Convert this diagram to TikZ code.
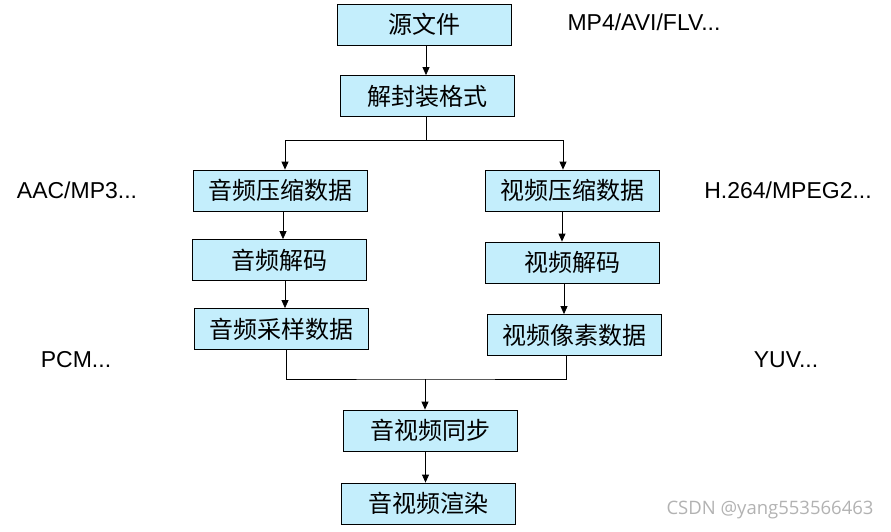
\documentclass[tikz,border=0pt]{standalone}
\usepackage{fontspec}
\setmainfont{Liberation Sans}
\newfontfamily\cjk{Noto Sans CJK SC}
\newfontfamily\markfont{Open Sans}
\usetikzlibrary{arrows.meta}
\definecolor{boxfill}{RGB}{196,238,252}
\begin{document}
\begin{tikzpicture}[x=1pt,y=-1pt]
		\tikzset{
			stage/.style={draw=black, fill=boxfill, line width=0.8pt, minimum width=174pt, minimum height=41pt, inner sep=0pt, font=\cjk\fontsize{24}{24}\selectfont},
			fmt/.style={font=\fontsize{23}{23}\selectfont, inner sep=0pt},
			flow/.style={line width=0.8pt, -{Triangle[length=8pt,width=7pt]}},
			wire/.style={line width=0.8pt},
		}
		\useasboundingbox (0,0) rectangle (891,532);
		
		% The boxes of the chain, top to bottom.
		\path (424,24.5) node[stage] (src) {源文件};
		\path (427,96) node[stage] (demux) {解封装格式};
		\path (280,190.5) node[stage] (acomp) {音频压缩数据};
		\path (279,260) node[stage] (adec) {音频解码};
		\path (281,329) node[stage] (asam) {音频采样数据};
		\path (572,190.5) node[stage] (vcomp) {视频压缩数据};
		\path (572,262.5) node[stage] (vdec) {视频解码};
		\path (574,335) node[stage] (vpix) {视频像素数据};
		\path (430,430.5) node[stage] (sync) {音视频同步};
		\path (428.5,503.5) node[stage] (render) {音视频渲染};
		
		% The formats beside the boxes.
		\path (644,22) node[fmt] (srcfmt) {MP4/AVI/FLV...};
		\path (77,190) node[fmt] (afmt) {AAC/MP3...};
		\path (76,360) node[fmt] (pcmfmt) {PCM...};
		\path (788,190) node[fmt] (vfmt) {H.264/MPEG2...};
		\path (786,360) node[fmt] (yuvfmt) {YUV...};
		
		% Split after demuxing, merge before sync.
		\coordinate (split) at (426,140);
		\coordinate (merge) at (425,379);
		
		\draw[flow] ([xshift=2pt]src.south) -- ([xshift=2pt]src.south |- demux.north);
		\draw[wire] (demux.south -| split) -- (split);
		\draw[flow] (split) -| ([xshift=5pt]acomp.north);
		\draw[flow] (split) -| ([xshift=-9pt]vcomp.north);
		\draw[flow] ([xshift=3pt]acomp.south) -- ([xshift=3pt]acomp.south |- adec.north);
		\draw[flow] ([xshift=6pt]adec.south) -- ([xshift=6pt]adec.south |- asam.north);
		\draw[flow] ([xshift=-10pt]vcomp.south) -- ([xshift=-10pt]vcomp.south |- vdec.north);
		\draw[flow] ([xshift=-8pt]vdec.south) -- ([xshift=-8pt]vdec.south |- vpix.north);
		\draw[wire] ([xshift=5pt]asam.south) |- (merge) -| ([xshift=-8pt]vpix.south);
		\draw[flow] (merge) -- (merge |- sync.north);
		\draw[flow] ([xshift=-3pt]render.north |- sync.south) -- ([xshift=-3pt]render.north);
		
		\path (770,510) node[font=\markfont\fontsize{18.5}{18.5}\selectfont, text=black!30, inner sep=0pt] (mark) {CSDN @yang553566463};
	\end{tikzpicture}
\end{document}
